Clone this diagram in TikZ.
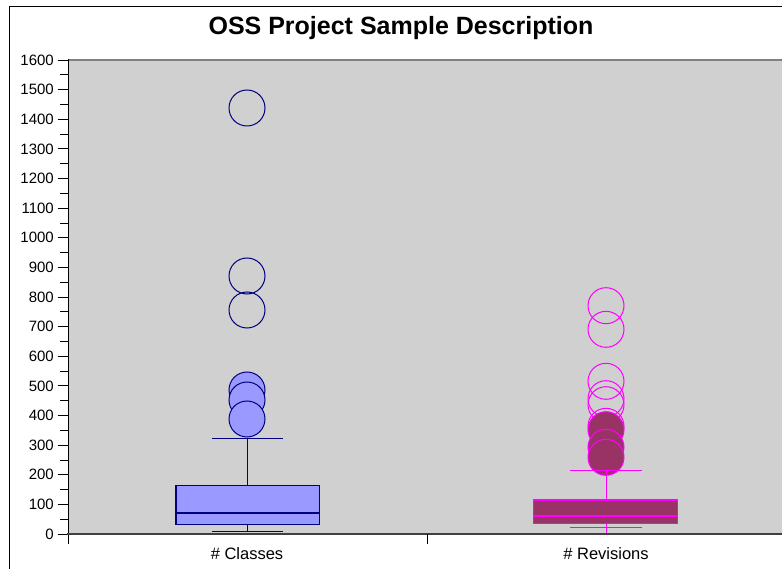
\documentclass[tikz,border=0pt]{standalone}
\usepackage{fontspec}
\setmainfont{Liberation Sans}
\definecolor{plotgray}{HTML}{D0D0D0}
\definecolor{clsfill}{HTML}{9999FF}
\definecolor{clsline}{HTML}{000080}
\definecolor{revfill}{HTML}{993366}
\definecolor{revline}{HTML}{FF00FF}
\definecolor{axisdark}{HTML}{404040}
\definecolor{bordergray}{HTML}{808080}
\begin{document}
\begin{tikzpicture}[x=1pt,y=-1pt,
  clsout/.style={circle, draw=clsline, line width=1pt, minimum size=36pt, inner sep=0pt},
  clsoutf/.style={clsout, fill=clsfill},
  revout/.style={circle, draw=revline, line width=1pt, minimum size=36pt, inner sep=0pt},
  revoutf/.style={revout, fill=revfill},
  ylab/.style={anchor=east, inner sep=0pt, font=\fontsize{15}{18}\selectfont},
  xlab/.style={anchor=base, inner sep=0pt, font=\fontsize{16.5}{20}\selectfont},
  clsbox/.style={draw=clsline, fill=clsfill, line width=1.2pt},
  revbox/.style={draw=revline, fill=revfill, line width=1.2pt},
]
\useasboundingbox (0,0) rectangle (782,569);
\fill[white] (0,0) rectangle (782,569);
% outer frame
\draw[line width=1pt] (9.5,569) -- (9.5,7) -- (782,7);
\node[font=\bfseries\fontsize{25}{30}\selectfont, inner sep=0pt] (title) at (401,28) {OSS Project Sample Description};
% plot area
\fill[plotgray] (68,60) rectangle (782,534);
\draw[bordergray, line width=2pt] (68,60) -- (782,60);
% y axis
\draw[line width=0.8pt] (68,59) -- (68,544);
\foreach \v in {0,100,...,1600} {
  \pgfmathsetmacro\yy{534-\v*0.29625}
  \draw[line width=0.8pt] (57.5,\yy) -- (68,\yy);
  \node[ylab] (yl\v) at (54,\yy) {\v};
}
\foreach \v in {50,150,...,1550} {
  \pgfmathsetmacro\yy{534-\v*0.29625}
  \draw[line width=0.8pt] (60,\yy) -- (68,\yy);
}
% Classes box
\coordinate (cuc) at (247,438);
\coordinate (clc) at (247,531.7);
\draw[clsline, line width=1pt] (cuc) -- (247,485.3);
\draw[clsline, line width=1pt] (247,524.7) -- (clc);
\draw[clsline, line width=1pt] (211.7,438) -- (283.3,438);
\draw[clsline, line width=1pt] (211.7,531.7) -- (283.3,531.7);
\draw[clsbox] (176,485.3) rectangle (319.3,524.7);
\draw[clsline, line width=1.6pt] (176,512.7) -- (319.3,512.7);
% Classes outliers
\node[clsout] (c1) at (247,108) {};
\node[clsout] (c2) at (247,276) {};
\node[clsout] (c3) at (247,310) {};
\node[clsoutf] (c4) at (247,390) {};
\node[clsoutf] (c5) at (247,400) {};
\node[clsoutf] (c6) at (247,419) {};
% Revisions outliers
\node[revout] (r1) at (606,305.7) {};
\node[revout] (r2) at (606,329.3) {};
\node[revout] (r3) at (606,381.3) {};
\node[revout] (r4) at (606,398.7) {};
\node[revout] (r5) at (606,404.7) {};
\node[revout] (r6) at (606,426.3) {};
\node[revoutf] (r7) at (606,429.7) {};
\node[revoutf] (r8) at (606,447.3) {};
\node[revoutf] (r9) at (606,457.3) {};
% Revisions box
\draw[revline, line width=1pt] (606,470) -- (606,500);
\draw[revline, line width=1pt] (606,523.3) -- (606,534);
\draw[revline, line width=1pt] (570,470) -- (641.7,470);
\draw[revline, line width=1pt] (570,527.3) -- (641.7,527.3);
\draw[revbox] (533.7,500) rectangle (677.7,523.3);
\draw[revline, line width=1.2pt] (533.7,516) -- (677.7,516);
% x axis
\draw[axisdark, line width=2pt] (67,534) -- (782,534);
\draw[line width=1pt] (427,534) -- (427,544);
\node[xlab] (xc) at (247,559) {\# Classes};
\node[xlab] (xr) at (606,559) {\# Revisions};
\end{tikzpicture}
\end{document}
